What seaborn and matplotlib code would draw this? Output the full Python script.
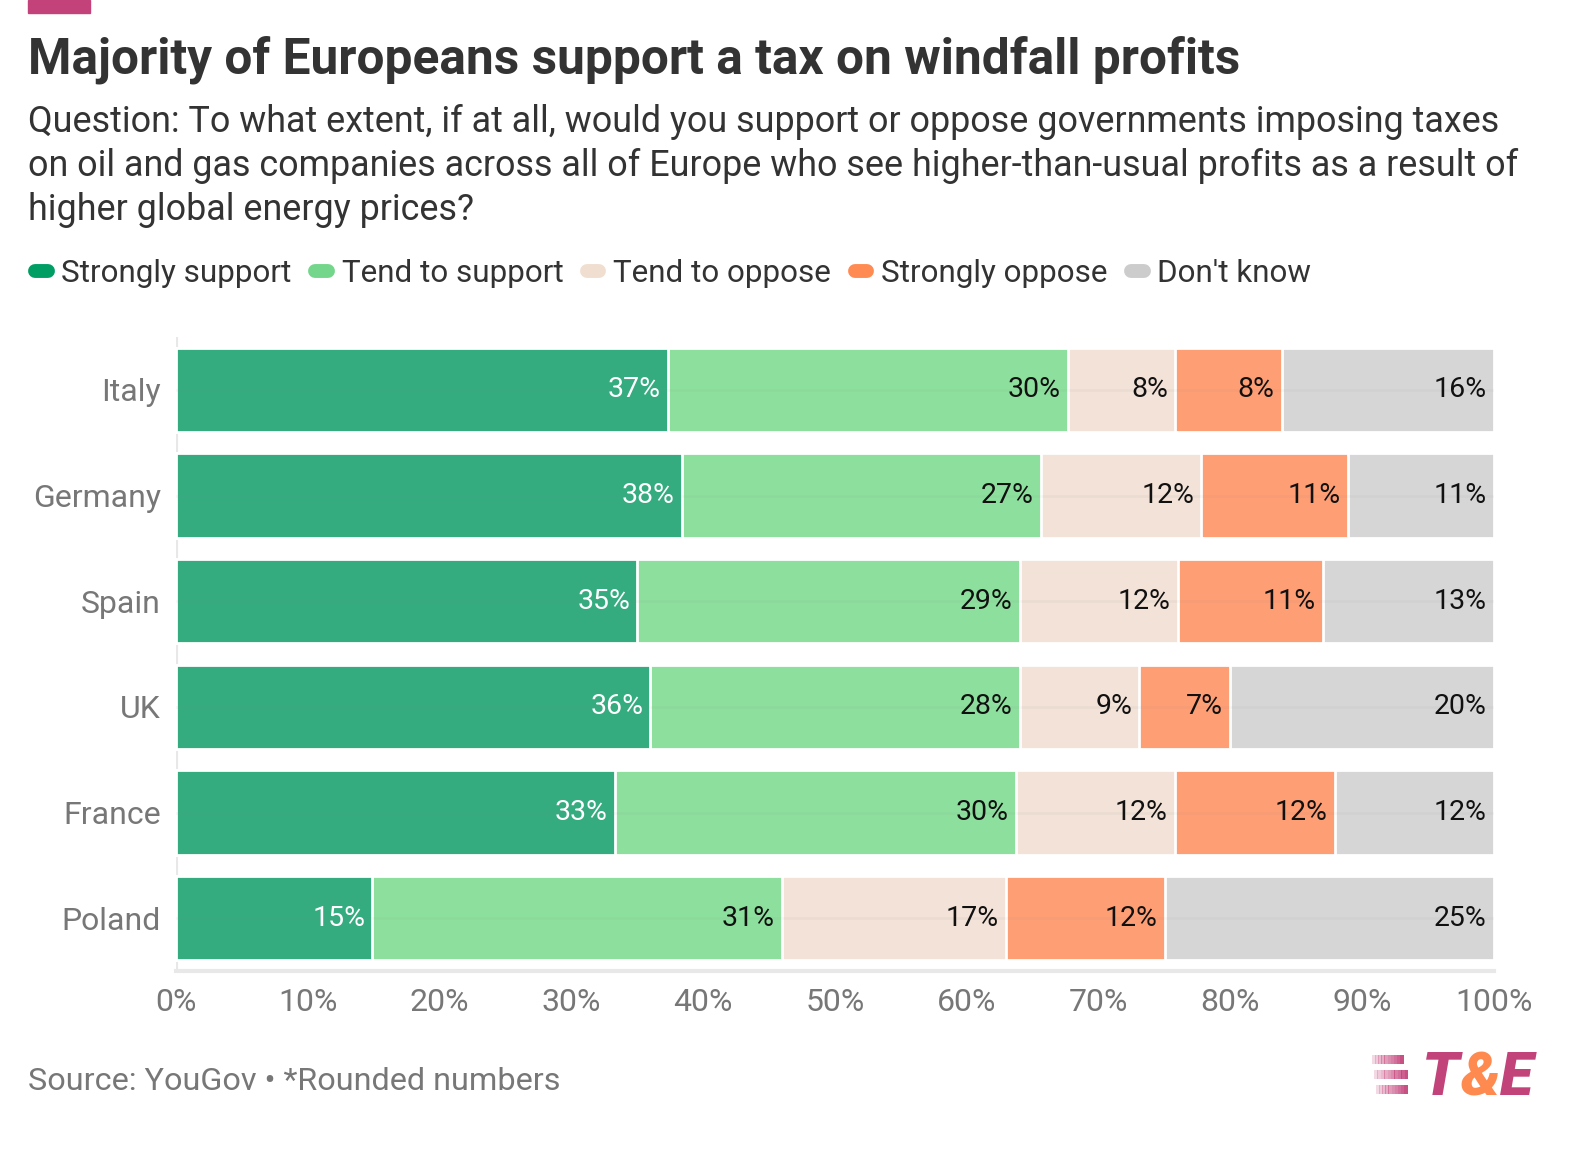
import matplotlib.pyplot as plt
from matplotlib.lines import Line2D
from matplotlib.patches import Rectangle
import numpy as np
import pandas as pd
import seaborn as sns

countries = ['Italy', 'Germany', 'Spain', 'UK', 'France', 'Poland']
answers = ['Strongly support', 'Tend to support', 'Tend to oppose', 'Strongly oppose', "Don't know"]

strongly_support = [37.3, 38.4, 35.0, 36.0, 33.3, 14.9]
tend_support = [30.4, 27.2, 29.0, 28.0, 30.4, 31.1]
tend_oppose = [8.1, 12.2, 12.0, 9.1, 12.1, 17.0]
strongly_oppose = [8.1, 11.1, 11.0, 6.9, 12.1, 12.0]
dont_know = [16.1, 11.1, 13.0, 20.0, 12.1, 25.0]

bar_colors = ['#34ac80', '#8ddf9e', '#f2e2d7', '#fe9e74', '#d6d6d6']
legend_colors = ['#009e65', '#74d68b', '#f0dfd1', '#ff8b52', '#cccccc']
label_colors = ['white', '#111111', '#111111', '#111111', '#111111']

df = pd.DataFrame({'country': countries})
series = [strongly_support, tend_support, tend_oppose, strongly_oppose, dont_know]
for name, vals in zip(answers, series):
    df[name] = vals
cum = df[answers].cumsum(axis=1)

sns.set_style('white')
plt.rcParams['font.family'] = ['Roboto', 'DejaVu Sans']

fig = plt.figure(figsize=(15.88, 11.5), dpi=100)
ax = fig.add_axes([176 / 1588, 1 - 971 / 1150, (1494 - 176) / 1588, (971 - 337) / 1150])

ax.axvline(0, color='#e8e8e8', lw=3, zorder=0)

# stacked bars: draw cumulative totals from the outermost segment inward
for k in reversed(range(len(answers))):
    sns.barplot(x=cum[answers[k]], y=df['country'], orient='h', color=bar_colors[k],
                saturation=1, width=0.8, edgecolor='white', linewidth=2, ax=ax, zorder=2)

# faint row lines showing through the bars
for i in range(len(countries)):
    ax.axhline(i, color='#888888', lw=2, alpha=0.06, zorder=3)

for k, name in enumerate(answers):
    for i, v in enumerate(df[name]):
        ax.text(cum[name][i] - 0.55, i, f'{round(v)}%', ha='right', va='center',
                fontsize=20.5, color=label_colors[k], zorder=5)

ax.set_xlim(0, 100)
ax.set_ylim(5.5, -0.5)
ax.set_xticks(range(0, 101, 10))
ax.set_xticklabels([f'{t}%' for t in range(0, 101, 10)])
ax.set_xlabel('')
ax.set_ylabel('')
for s in ['top', 'right', 'left']:
    ax.spines[s].set_visible(False)
ax.spines['bottom'].set_color('#e8e8e8')
ax.spines['bottom'].set_linewidth(3)
ax.tick_params(axis='x', length=7, width=2, color='#e8e8e8', labelsize=23,
               labelcolor='#777777', pad=5)
ax.tick_params(axis='y', length=7, width=2, color='#e8e8e8', labelsize=23,
               labelcolor='#777777', pad=4)

# header
fig.patches.append(Rectangle((28 / 1588, 1 - 13 / 1150), 62 / 1588, 13 / 1150,
                             transform=fig.transFigure, color='#c4427a'))
fig.text(28 / 1588, 1 - 60 / 1150, 'Majority of Europeans support a tax on windfall profits',
         fontsize=35.7, fontweight='bold', color='#333333', va='center')
fig.text(28 / 1588, 1 - 166 / 1150,
         'Question: To what extent, if at all, would you support or oppose governments imposing taxes\n'
         'on oil and gas companies across all of Europe who see higher-than-usual profits as a result of\n'
         'higher global energy prices?',
         fontsize=25.8, color='#333333', va='center', linespacing=1.3)

handles = [Line2D([0], [0], color=c, lw=10, solid_capstyle='round') for c in legend_colors]
fig.legend(handles, answers, loc='center left', bbox_to_anchor=(35 / 1588, 1 - 273 / 1150),
           ncol=5, frameon=False, fontsize=22.6, handlelength=0.4, handletextpad=0.44,
           columnspacing=0.75, labelcolor='#333333', borderpad=0, borderaxespad=0)

# footer
fig.text(28 / 1588, 1 - 1082 / 1150, 'Source: YouGov \u2022 *Rounded numbers',
         fontsize=23.3, color='#777777', va='center')

for j, (y0, w) in enumerate([(1055, 31), (1070, 34), (1085, 31)]):
    for s in range(10):
        fig.patches.append(Rectangle(((1372 + j * 2 + s * w / 10) / 1588, 1 - (y0 + 9) / 1150),
                                     (w / 10 + 0.5) / 1588, 9 / 1150, transform=fig.transFigure,
                                     color='#c4427a', alpha=0.2 + 0.08 * s, lw=0))
for ch, x, c in [('T', 1422, '#c2427a'), ('&', 1461, '#ff8a50'), ('E', 1500, '#c2427a')]:
    fig.text(x / 1588, 1 - 1078 / 1150, ch, fontsize=44, fontweight='black', style='italic',
             color=c, va='center', ha='left')

fig.savefig('out.png', dpi=100)
